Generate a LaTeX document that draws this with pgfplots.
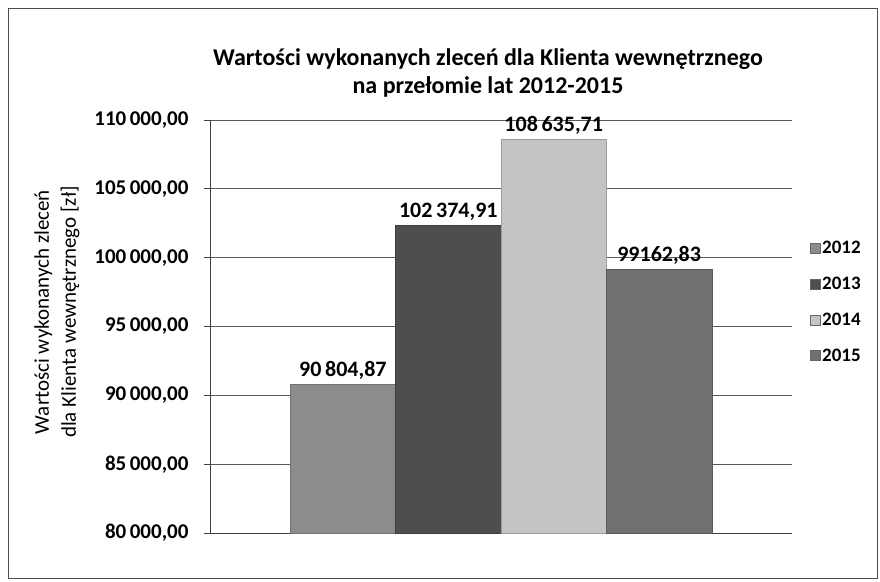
\documentclass[border=0pt]{standalone}
\usepackage{pgfplots}
\pgfplotsset{compat=1.18}
\usepackage{fontspec}
\setmainfont{Carlito}
\definecolor{c2012}{HTML}{8C8C8C}
\definecolor{c2013}{HTML}{4E4E4E}
\definecolor{c2014}{HTML}{C4C4C4}
\definecolor{c2015}{HTML}{717171}
\begin{document}
\begin{tikzpicture}
\useasboundingbox (0pt,0pt) rectangle (880pt,-581pt);
\draw[line width=1pt, black!70] (8pt,-8pt) rectangle (877pt,-578pt);
\node[align=center, font=\fontsize{24}{28}\selectfont\bfseries] at (488pt,-73pt) {Wartości wykonanych zleceń dla Klienta wewnętrznego\\na przełomie lat 2012-2015};
\node[rotate=90, align=center, font=\fontsize{21}{27}\selectfont] at (57pt,-312pt) {Wartości wykonanych zleceń\\dla Klienta wewnętrznego [zł]};
\begin{axis}[
  at={(210pt,-533pt)}, anchor=south west,
  scale only axis, width=582pt, height=413pt,
  ymin=80000, ymax=110000,
  xmin=-0.26, xmax=5.26,
  scaled y ticks=false,
  ytick={80000,85000,90000,95000,100000,105000,110000},
  yticklabels={{80\,000,00},{85\,000,00},{90\,000,00},{95\,000,00},{100\,000,00},{105\,000,00},{110\,000,00}},
  yticklabel style={font=\fontsize{21}{23}\selectfont\bfseries, xshift=-12pt},
  /pgf/number format/assume math mode=true,
  xtick=\empty,
  axis x line*=bottom, axis y line*=left,
  axis line style={black!75, line width=0.8pt},
  y axis line style={-}, x axis line style={-},
  ytick style={black!75, line width=0.8pt},
  tick align=outside, major tick length=6pt,
  ymajorgrids, grid style={black!65, line width=0.8pt},
  ybar, bar width=1, bar shift=0pt,
  nodes near coords, point meta=explicit symbolic,
  nodes near coords style={font=\fontsize{22}{24}\selectfont\bfseries, black, yshift=1pt},
  legend style={at={(1.025,0.56)}, anchor=west, draw=none, fill=none,
    font=\fontsize{19}{21}\selectfont\bfseries, row sep=18pt,
    /tikz/every even column/.append style={column sep=2pt}},
  legend image code/.code={\draw[#1, draw=black!60] (0pt,-5pt) rectangle (10pt,5pt);},
  clip=false,
]
\addplot[fill=c2012, draw=c2012!80!black] coordinates {(1,90804.87) [90\,804,87]};
\addplot[fill=c2013, draw=c2013!80!black] coordinates {(2,102374.91) [102\,374,91]};
\addplot[fill=c2014, draw=c2014!80!black] coordinates {(3,108635.71) [108\,635,71]};
\addplot[fill=c2015, draw=c2015!80!black] coordinates {(4,99162.83) [99162,83]};
\legend{2012,2013,2014,2015}
\end{axis}
\end{tikzpicture}
\end{document}
